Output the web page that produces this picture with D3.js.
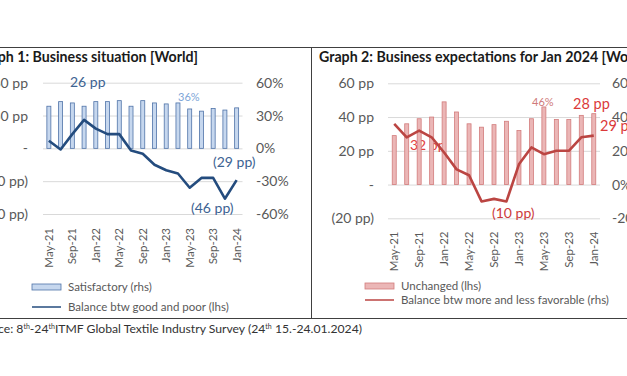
<!DOCTYPE html>
<html>
<head>
<meta charset="utf-8">
<script src="https://cdn.jsdelivr.net/npm/d3@7"></script>
<style>
  body { margin: 0; background: #fff; }
  svg { display: block; font-family: Lato, "Open Sans", sans-serif; }
</style>
</head>
<body>
<div id="chart-area"></div>
<script>
// data
let months = ["May-21","Jul-21","Sep-21","Nov-21","Jan-22","Mar-22","May-22","Jul-22","Sep-22",
  "Nov-22","Jan-23","Mar-23","May-23","Jul-23","Sep-23","Nov-23","Jan-24"];
let tickMonths = ["May-21","Sep-21","Jan-22","May-22","Sep-22","Jan-23","May-23","Sep-23","Jan-24"];

// graph 1: business situation
let satisfactory = [38.5, 42.7, 41.5, 38.5, 42.7, 42.7, 43.6, 38.5, 43.6, 41.5, 40.6, 41.5, 36, 34, 36.4, 35, 37];
let balanceGoodPoor = [7, -1, 13, 26, 18, 13, 13, -2, -5, -15, -20, -23, -36, -27, -27, -46, -29];
let ticks1 = [60, 30, 0, -30, -60];

// graph 2: business expectations
let unchanged = [29, 36, 39, 40, 49, 43, 36, 34, 35.5, 37.5, 32, 39, 46, 38.5, 38.5, 41, 42];
let balanceMoreLess = [36, 28, 32, 28, 19, 9, 5.5, -10, -8.5, -10, 12, 22, 18, 20, 20, 28, 29];
let ticks2 = [60, 40, 20, 0, -20];

let W = 627, H = 376;
let svg = d3.select("#chart-area").append("svg")
  .attr("width", W).attr("height", H);

let grey = "#595959";

// frame lines
svg.append("line").attr("x1", 0).attr("x2", W).attr("y1", 47.5).attr("y2", 47.5)
  .attr("stroke", "#404040").attr("stroke-width", 1);
svg.append("line").attr("x1", 311.5).attr("x2", 311.5).attr("y1", 47.5).attr("y2", 318.5)
  .attr("stroke", "#404040").attr("stroke-width", 1);
svg.append("line").attr("x1", 0).attr("x2", W).attr("y1", 318.5).attr("y2", 318.5)
  .attr("stroke", "#404040").attr("stroke-width", 1);

// titles
svg.append("text").attr("x", 198).attr("y", 61.5).attr("text-anchor", "end")
  .style("font-size", "14.2px").style("font-weight", "bold").attr("fill", "#1a1a1a")
  .text("Graph 1: Business situation [World]");
svg.append("text").attr("x", 319).attr("y", 61.5)
  .style("font-size", "14.2px").style("font-weight", "bold").attr("fill", "#1a1a1a")
  .text("Graph 2: Business expectations for Jan 2024 [World]");

function drawPanel(cfg) {
  let g = svg.append("g");
  let x = d3.scaleBand().domain(months).range([cfg.x0, cfg.x1]).paddingInner(0);
  let y = d3.scaleLinear().domain(cfg.domain).range([cfg.yBottom, cfg.yTop]);

  // gridlines
  g.append("g").attr("transform", "translate(" + cfg.x0 + ",0)")
    .call(d3.axisLeft(y).tickValues(cfg.ticks).tickSize(-(cfg.x1 - cfg.x0)).tickFormat(""))
    .call(a => a.select(".domain").remove())
    .call(a => a.selectAll("line").attr("stroke", "#d9d9d9"));

  // left labels
  g.append("g").attr("transform", "translate(" + cfg.leftX + ",0)")
    .call(d3.axisLeft(y).tickValues(cfg.ticks).tickSize(0).tickPadding(0).tickFormat(cfg.leftFmt))
    .call(a => a.select(".domain").remove())
    .call(a => a.selectAll("text").attr("fill", grey).style("font-size", "14px")
      .style("font-family", "Lato, sans-serif"));

  // right labels
  g.append("g").attr("transform", "translate(" + cfg.rightX + ",0)")
    .call(d3.axisRight(y).tickValues(cfg.ticks).tickSize(0).tickPadding(0).tickFormat(d => d + "%"))
    .call(a => a.select(".domain").remove())
    .call(a => a.selectAll("text").attr("fill", grey).style("font-size", "14px")
      .style("font-family", "Lato, sans-serif"));

  // labels drawn under bars
  (cfg.underLabels || []).forEach(l => {
    g.append("text").attr("x", l.x).attr("y", l.y).attr("fill", l.color)
      .style("font-size", l.size + "px").text(l.text);
  });

  let bw = 4;
  g.selectAll("rect.bar").data(cfg.bars).enter().append("rect")
    .attr("class", "bar")
    .attr("x", (d, i) => x(months[i]) + x.bandwidth() / 2 - bw / 2)
    .attr("y", d => y(Math.max(0, d)))
    .attr("width", bw)
    .attr("height", d => Math.abs(y(d) - y(0)))
    .attr("fill", cfg.barFill).attr("stroke", cfg.barStroke).attr("stroke-width", 0.8);

  let line = d3.line()
    .x((d, i) => x(months[i]) + x.bandwidth() / 2)
    .y(d => y(d));
  g.append("path").datum(cfg.line).attr("d", line)
    .attr("fill", "none").attr("stroke", cfg.lineColor).attr("stroke-width", 2.6)
    .attr("stroke-linejoin", "round");

  // rotated month labels
  g.selectAll("text.month").data(tickMonths).enter().append("text")
    .attr("class", "month")
    .attr("transform", d => "translate(" + (x(d) + x.bandwidth() / 2 + 4) + "," + cfg.monthTop + ") rotate(-90)")
    .attr("text-anchor", "end").attr("fill", grey).style("font-size", "11.5px")
    .text(d => d);

  (cfg.labels || []).forEach(l => {
    g.append("text").attr("x", l.x).attr("y", l.y).attr("fill", l.color)
      .style("font-size", l.size + "px").text(l.text);
  });

  // legend
  let lg = cfg.legend;
  g.append("rect").attr("x", lg.x).attr("y", lg.y1 - 3).attr("width", 29).attr("height", 6)
    .attr("fill", cfg.barFill).attr("stroke", cfg.barStroke).attr("stroke-width", 0.8);
  g.append("text").attr("x", lg.x + 36).attr("y", lg.y1 + 4).attr("fill", grey)
    .style("font-size", "11.5px").text(lg.t1);
  g.append("line").attr("x1", lg.x).attr("x2", lg.x + 29).attr("y1", lg.y2).attr("y2", lg.y2)
    .attr("stroke", cfg.lineColor).attr("stroke-width", 1.5);
  g.append("text").attr("x", lg.x + 36).attr("y", lg.y2 + 4).attr("fill", grey)
    .style("font-size", "11.5px").text(lg.t2);
}

drawPanel({
  x0: 43, x1: 242.5, yTop: 82.7, yBottom: 214, domain: [-60, 60], ticks: ticks1,
  leftX: 28, rightX: 256,
  leftFmt: d => d === 0 ? "-" : (d > 0 ? d + " pp" : "(" + (-d) + " pp)"),
  bars: satisfactory, line: balanceGoodPoor,
  barFill: "#c6d7ee", barStroke: "#4f73a8", lineColor: "#244c7e",
  monthTop: 228,
  labels: [
    {x: 70, y: 87, text: "26 pp", color: "#3d6392", size: 14},
    {x: 178, y: 100.5, text: "36%", color: "#7ea6d8", size: 11},
    {x: 213, y: 167, text: "(29 pp)", color: "#3d6392", size: 14},
    {x: 191, y: 213, text: "(46 pp)", color: "#3d6392", size: 14}
  ],
  legend: {x: 32, y1: 287, t1: "Satisfactory (rhs)", y2: 307, t2: "Balance btw good and poor (lhs)"}
});

drawPanel({
  x0: 388, x1: 600, yTop: 83.3, yBottom: 218.3, domain: [-20, 60], ticks: ticks2,
  leftX: 374, rightX: 612,
  leftFmt: d => d === 0 ? "-" : (d > 0 ? d + " pp" : "(" + (-d) + " pp)"),
  bars: unchanged, line: balanceMoreLess,
  barFill: "#ebb6b6", barStroke: "#d27c7c", lineColor: "#bb4542",
  monthTop: 231.5,
  underLabels: [
    {x: 410, y: 150, text: "32 pp", color: "#e2403d", size: 14}
  ],
  labels: [
    {x: 532, y: 105.5, text: "46%", color: "#cf7b7b", size: 11},
    {x: 573, y: 109, text: "28 pp", color: "#db3a3a", size: 14.5},
    {x: 600, y: 131, text: "29 pp", color: "#db3a3a", size: 14.5},
    {x: 492, y: 218, text: "(10 pp)", color: "#cc3b3b", size: 14}
  ],
  legend: {x: 365, y1: 286, t1: "Unchanged (lhs)", y2: 300, t2: "Balance btw more and less favorable (rhs)"}
});

// source line
let src = svg.append("text").attr("x", 362).attr("y", 333).attr("text-anchor", "end")
  .attr("fill", "#333").style("font-size", "12.2px");
src.append("tspan").text("Source: 8");
src.append("tspan").attr("baseline-shift", "super").style("font-size", "7px").text("th");
src.append("tspan").text("-24");
src.append("tspan").attr("baseline-shift", "super").style("font-size", "7px").text("th");
src.append("tspan").text("ITMF Global Textile Industry Survey (24");
src.append("tspan").attr("baseline-shift", "super").style("font-size", "7px").text("th");
src.append("tspan").text(" 15.-24.01.2024)");
</script>
</body>
</html>
